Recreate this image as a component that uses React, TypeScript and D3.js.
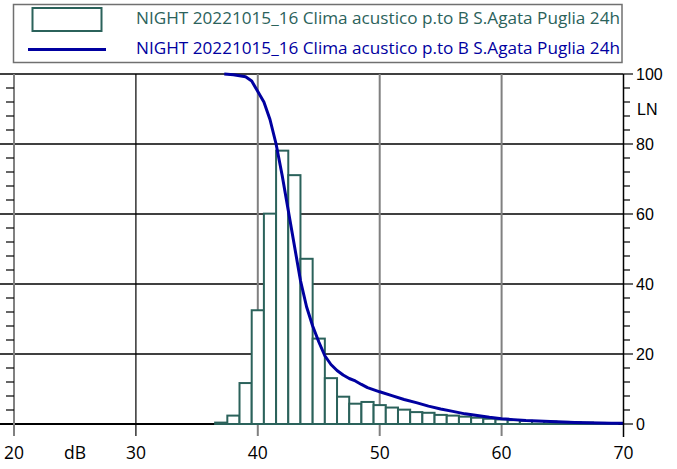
import React from "react";
import * as d3 from "d3";

const legendLabel = "NIGHT 20221015_16 Clima acustico p.to B S.Agata Puglia 24h";
const xTicks = [20, 30, 40, 50, 60, 70];
const yMajor = [0, 20, 40, 60, 80, 100];
const yMinor = d3.range(0, 101, 4);
// histogram: bin centres (dB, 1 dB wide) and heights
const binCentres = [37, 38, 39, 40, 41, 42, 43, 44, 45, 46, 47, 48, 49, 50, 51, 52, 53, 54, 55, 56, 57, 58, 59, 60, 61, 62, 63, 64, 65, 66, 67, 68, 69];
const binValues = [0.4, 2.4, 11.7, 32.5, 60.1, 78.1, 71.1, 47.2, 24.4, 13.1, 7.8, 5.8, 6.3, 5.4, 4.7, 4.1, 3.4, 3.2, 2.6, 2.4, 2.1, 1.8, 1.5, 1.3, 1.1, 0.9, 0.8, 0.7, 0.6, 0.5, 0.4, 0.3, 0.2];
// cumulative LN curve
const lnDb = [37.25, 38, 39, 39.5, 40, 40.5, 41, 41.5, 42, 42.5, 43, 43.5, 44, 44.5, 45, 45.5, 46, 46.5, 47, 47.5, 48, 48.5, 49, 50, 51, 52, 53, 54, 55, 56, 57, 58, 59, 60, 61, 62, 63, 64, 65, 66, 67, 68, 69, 70];
const lnVal = [100, 99.8, 99.2, 98, 95, 92, 87, 80, 71, 61, 51, 41, 33.5, 28, 23.5, 19.5, 17, 15.3, 14, 13, 12.3, 11.3, 10.4, 9.2, 8.1, 7, 6.1, 5.1, 4.3, 3.6, 2.9, 2.4, 1.9, 1.5, 1.25, 1.0, 0.85, 0.7, 0.57, 0.45, 0.35, 0.28, 0.22, 0.2];

const W = 677, H = 469;
const TEAL = "#2b625b";
const BLUE = "#0000a0";

export default function App() {
  const x = d3.scaleLinear().domain([20, 70]).range([14, 623.5]);
  const y = d3.scaleLinear().domain([0, 100]).range([424, 74]);
  const line = d3.line<number>().x((_, i) => x(lnDb[i])).y((v) => y(v));
  const left = x(20), right = x(70);

  return (
    <svg width={W} height={H} style={{ position: "absolute", left: 0, top: 0, background: "#fff" }}>
      {/* legend */}
      <rect x={13.5} y={4.5} width={608.5} height={58} fill="#fff" stroke="#707070" strokeWidth={1.5} />
      <rect x={32.5} y={8} width={69} height={23} fill="#fff" stroke={TEAL} strokeWidth={2} />
      <line x1={28} x2={106} y1={49.5} y2={49.5} stroke={BLUE} strokeWidth={3} />
      <text x={136} y={24} fontFamily="Open Sans" fontSize={16.5} fill={TEAL} textLength={484} lengthAdjust="spacingAndGlyphs">{legendLabel}</text>
      <text x={136} y={54} fontFamily="Open Sans" fontSize={16.5} fill={BLUE} textLength={484} lengthAdjust="spacingAndGlyphs">{legendLabel}</text>

      {/* horizontal gridlines */}
      {yMajor.map((v) => (
        <line key={"h" + v} x1={0} x2={right} y1={y(v)} y2={y(v)} stroke="#000" strokeWidth={v === 0 ? 2 : 1.5} />
      ))}
      {/* vertical gridlines */}
      {xTicks.filter((t) => t > 20 && t < 70).map((t) => (
        <line key={"v" + t} x1={x(t)} x2={x(t)} y1={y(100)} y2={436} stroke={t === 30 ? "#000" : "#808080"} strokeWidth={t === 30 ? 1.2 : 2} />
      ))}
      {/* left axis */}
      <line x1={left} x2={left} y1={y(100)} y2={436} stroke="#808080" strokeWidth={2} />
      {yMinor.filter((v) => v % 20 !== 0).map((v) => (
        <line key={"lm" + v} x1={6} x2={left} y1={y(v)} y2={y(v)} stroke="#000" strokeWidth={1.2} />
      ))}

      {/* histogram */}
      {binCentres.map((c, i) => (
        <rect key={"b" + c} x={x(c - 0.5)} y={y(binValues[i])} width={x(c + 0.5) - x(c - 0.5)} height={y(0) - y(binValues[i])} fill="#fff" stroke={TEAL} strokeWidth={2} />
      ))}

      {/* LN curve */}
      <path d={line(lnVal) || ""} fill="none" stroke={BLUE} strokeWidth={3} strokeLinejoin="round" />

      {/* right axis */}
      <line x1={right} x2={right} y1={y(100)} y2={437} stroke="#000" strokeWidth={1.5} />
      {yMinor.map((v) => (
        <line key={"rm" + v} x1={right} x2={v % 20 === 0 ? 633 : 630} y1={y(v)} y2={y(v)} stroke="#000" strokeWidth={1.2} />
      ))}
      {yMajor.map((v) => (
        <text key={"rl" + v} x={636} y={y(v)} dy="0.36em" fontFamily="Liberation Sans, Arial" fontSize={16} fill="#000">{v}</text>
      ))}
      <text x={637} y={y(90)} dy="0.36em" fontFamily="Liberation Sans, Arial" fontSize={16} fill="#000">LN</text>

      {/* bottom labels */}
      {xTicks.map((t) => (
        <text key={"xl" + t} x={x(t)} y={459} textAnchor="middle" fontFamily="Open Sans" fontSize={17.5} fill="#000">{t}</text>
      ))}
      <text x={75} y={459} textAnchor="middle" fontFamily="Open Sans" fontSize={17.5} fill="#000">dB</text>
    </svg>
  );
}
